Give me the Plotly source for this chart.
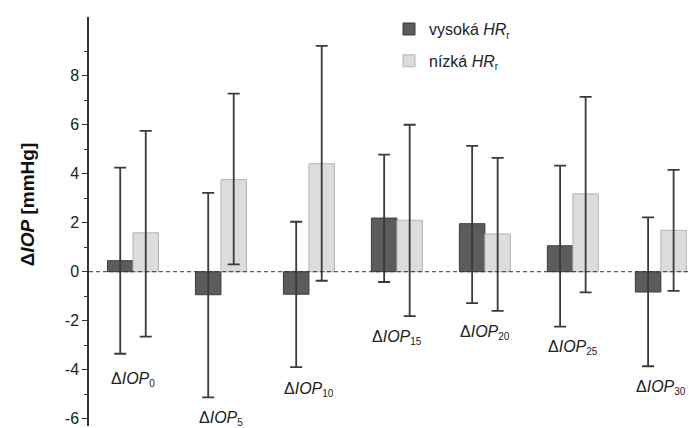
import plotly.graph_objects as go

# ΔIOP by time point for the two HR_r groups (mean with lower/upper range)
categories = ["0", "5", "10", "15", "20", "25", "30"]

high_mean = [0.45, -0.94, -0.92, 2.19, 1.96, 1.06, -0.83]
high_upper = [4.25, 3.22, 2.04, 4.78, 5.14, 4.33, 2.22]
high_lower = [-3.35, -5.13, -3.90, -0.42, -1.28, -2.24, -3.86]

low_mean = [1.59, 3.76, 4.41, 2.10, 1.54, 3.18, 1.69]
low_upper = [5.75, 7.27, 9.22, 6.00, 4.65, 7.14, 4.16]
low_lower = [-2.65, 0.30, -0.37, -1.81, -1.60, -0.84, -0.78]

y_ticks = [-6, -4, -2, 0, 2, 4, 6, 8]
y_tick_text = ["-6", "-4", "-2", "0", "2", "4", "6", "8"]
y_minor = [-5, -3, -1, 1, 3, 5, 7, 9]

# vertical placement of the time-point captions
caption_y = [-4.4, -6.0, -4.8, -2.7, -2.5, -3.1, -4.72]

FONT = "Arial"

x_idx = list(range(len(categories)))


def spread(mean, upper, lower):
    plus = [u - m for u, m in zip(upper, mean)]
    minus = [m - l for m, l in zip(mean, lower)]
    return plus, minus


def sub(t):
    return f"<sub><span style='font-size:10px'>{t}</span></sub>"


hp, hm = spread(high_mean, high_upper, high_lower)
lp, lm = spread(low_mean, low_upper, low_lower)

fig = go.Figure()
fig.add_trace(go.Bar(
    x=x_idx, y=high_mean, name="vysoká <i>HR</i>" + sub("r"),
    legendgroup="a",
    marker=dict(color="#5c5c5c", line=dict(color="#3c3c3c", width=1)),
    error_y=dict(type="data", symmetric=False, array=hp, arrayminus=hm,
                 color="#3a3a3a", thickness=1.8, width=6),
))
fig.add_trace(go.Bar(
    x=x_idx, y=low_mean, name="nízká <i>HR</i>" + sub("r"),
    legendgroup="b",
    marker=dict(color="#dcdcdc", line=dict(color="#b4b4b4", width=1)),
    error_y=dict(type="data", symmetric=False, array=lp, arrayminus=lm,
                 color="#3a3a3a", thickness=1.8, width=6),
))

# arrow head on top of the y axis
fig.add_trace(go.Scatter(
    x=[-0.5], y=[10.45], mode="markers", showlegend=False, hoverinfo="skip",
    marker=dict(symbol="triangle-up", size=15, color="#111111"),
    cliponaxis=False,
))

# dashed zero line
fig.add_shape(type="line", xref="paper", yref="y", x0=0, x1=1, y0=0, y1=0,
              line=dict(color="#333333", width=1, dash="4px,3px"), layer="above")

for i, cat in enumerate(categories):
    fig.add_annotation(
        x=i, y=caption_y[i], xref="x", yref="y",
        text="Δ<i>IOP</i>" + sub(cat), showarrow=False,
        xanchor="center", yanchor="middle",
        font=dict(family=FONT, size=16, color="#222222"),
    )

# y-axis title
fig.add_annotation(
    x=-0.102, y=2.75, xref="paper", yref="y", textangle=-90,
    text="<b>Δ<i>IOP</i> [mmHg]</b>", showarrow=False,
    xanchor="center", yanchor="middle",
    font=dict(family=FONT, size=19, color="#111111"),
)

fig.update_layout(
    width=689, height=428,
    margin=dict(l=89, r=0, t=17, b=2),
    paper_bgcolor="white", plot_bgcolor="white",
    barmode="group", bargap=0.42, bargroupgap=0,
    font=dict(family=FONT, size=16, color="#222222"),
    showlegend=True,
    legend=dict(x=0.50, y=1.012, xanchor="left", yanchor="top",
                bgcolor="rgba(0,0,0,0)", tracegroupgap=8,
                font=dict(family=FONT, size=16, color="#222222")),
    xaxis=dict(range=[-0.5, 6.32], visible=False, showgrid=False, zeroline=False),
    yaxis=dict(
        range=[-6.3, 10.4], tickmode="array", tickvals=y_ticks, ticktext=y_tick_text,
        ticks="outside", ticklen=5, tickwidth=1, tickcolor="#333333",
        showline=True, linecolor="#333333", linewidth=1.5,
        showgrid=False, zeroline=False,
        tickfont=dict(family=FONT, size=16, color="#222222"),
        minor=dict(tickmode="array", tickvals=y_minor, ticks="outside",
                   ticklen=3, tickcolor="#333333", showgrid=False),
    ),
)

fig.write_html("out.html")
